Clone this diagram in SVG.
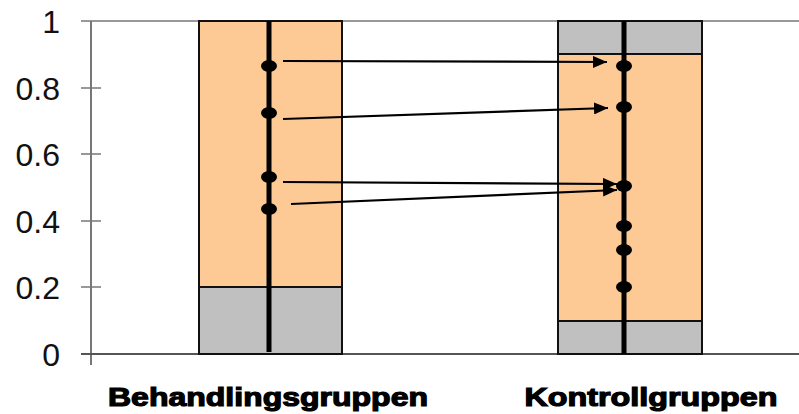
<svg xmlns="http://www.w3.org/2000/svg" width="799" height="414" viewBox="0 0 799 414">
<defs>
<style>
.tick{font-family:"Liberation Sans",Arial,sans-serif;font-size:32px;fill:#111;text-anchor:end}
.lab{font-family:"Liberation Sans",Arial,sans-serif;font-size:26px;font-weight:bold;fill:#000;stroke:#000;stroke-width:1.2;text-anchor:middle}
.orange{fill:#fdca96;stroke:#111;stroke-width:2}
.gray{fill:#c0c0c0;stroke:#111;stroke-width:2}
.stem{stroke:#000;stroke-width:5}
.conn{stroke:#000;stroke-width:2.2;fill:none;marker-end:url(#ah)}
</style>
<marker id="ah" viewBox="0 0 10 10" refX="10" refY="5" markerWidth="14" markerHeight="12" markerUnits="userSpaceOnUse" orient="auto" preserveAspectRatio="none">
<path d="M0,0 L10,5 L0,10 Z" fill="#000"/>
</marker>
</defs>
<rect width="799" height="414" fill="#fff"/>
<g id="axis">
<line x1="81" y1="21" x2="799" y2="21" stroke="#999" stroke-width="2"/>
<line x1="91" y1="21" x2="91" y2="365" stroke="#777" stroke-width="2"/>
<line x1="81" y1="354" x2="799" y2="354" stroke="#555" stroke-width="2"/>
<g stroke="#777" stroke-width="1.5">
<line x1="81" y1="88" x2="101" y2="88"/>
<line x1="81" y1="154" x2="101" y2="154"/>
<line x1="81" y1="221" x2="101" y2="221"/>
<line x1="81" y1="287" x2="101" y2="287"/>
</g>
<text class="tick" x="60" y="33">1</text>
<text class="tick" x="60" y="100">0.8</text>
<text class="tick" x="60" y="166">0.6</text>
<text class="tick" x="60" y="233">0.4</text>
<text class="tick" x="60" y="299">0.2</text>
<text class="tick" x="60" y="366">0</text>
</g>
<g id="behandlingsgruppen">
<rect class="orange" x="199" y="21" width="143" height="266"/>
<rect class="gray" x="199" y="287" width="143" height="67"/>
<line class="stem" x1="269" y1="21" x2="269" y2="352"/>
<g fill="#000">
<ellipse cx="269" cy="66" rx="8" ry="6"/>
<ellipse cx="269" cy="113" rx="8" ry="6"/>
<ellipse cx="269" cy="177" rx="8" ry="6"/>
<ellipse cx="269" cy="209" rx="8" ry="6"/>
</g>
<text class="lab" x="268" y="406" textLength="320" lengthAdjust="spacingAndGlyphs">Behandlingsgruppen</text>
</g>
<g id="kontrollgruppen">
<rect class="orange" x="558" y="54" width="144" height="267"/>
<rect class="gray" x="558" y="21" width="144" height="33"/>
<rect class="gray" x="558" y="321" width="144" height="33"/>
<line class="stem" x1="624" y1="21" x2="624" y2="354"/>
<g fill="#000">
<ellipse cx="624" cy="66" rx="8" ry="6"/>
<ellipse cx="624" cy="107" rx="8" ry="6"/>
<ellipse cx="624" cy="186" rx="8" ry="6"/>
<ellipse cx="624" cy="226" rx="8" ry="6"/>
<ellipse cx="624" cy="250" rx="8" ry="6"/>
<ellipse cx="624" cy="287" rx="8" ry="6"/>
</g>
<text class="lab" x="651" y="406" textLength="253" lengthAdjust="spacingAndGlyphs">Kontrollgruppen</text>
</g>
<g id="connectors">
<line class="conn" x1="283" y1="61" x2="607" y2="62"/>
<line class="conn" x1="283" y1="119" x2="608" y2="108"/>
<line class="conn" x1="283" y1="182" x2="617" y2="184"/>
<line class="conn" x1="291" y1="204" x2="617" y2="190"/>
</g>
</svg>
